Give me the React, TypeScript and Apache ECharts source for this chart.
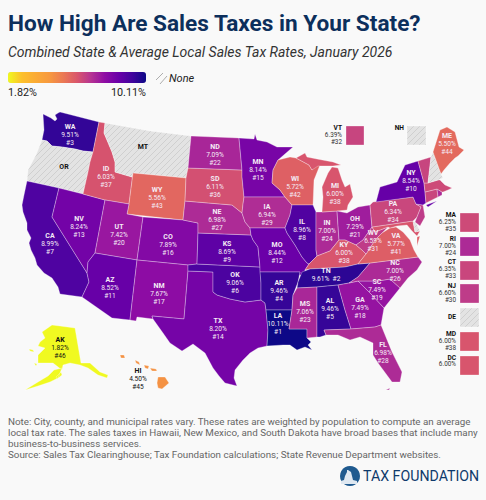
import React, { useEffect, useRef } from "react";
import * as echarts from "echarts";

const TITLE = "How High Are Sales Taxes in Your State?";
const SUBTITLE = "Combined State & Average Local Sales Tax Rates, January 2026";
const NOTE_LINES = [
  "Note: City, county, and municipal rates vary. These rates are weighted by population to compute an average",
  "local tax rate. The sales taxes in Hawaii, New Mexico, and South Dakota have broad bases that include many",
  "business-to-business services.",
  "Source: Sales Tax Clearinghouse; Tax Foundation calculations; State Revenue Department websites.",
];
const MIN_RATE = 1.82;
const MAX_RATE = 10.11;
const RAMP = ["#f0f921","#fcc02c","#fbab35","#f7993f","#eb7954","#d9566b","#b63492","#8f0da4","#6a00a8","#41049d","#0d0887"];

const STATES = ["AL","AK","AZ","AR","CA","CO","CT","DE","DC","FL","GA","HI","ID","IL","IN","IA","KS","KY","LA","ME","MD","MA","MI","MN","MS","MO","MT","NE","NV","NH","NJ","NM","NY","NC","ND","OH","OK","OR","PA","RI","SC","SD","TN","TX","UT","VT","VA","WA","WV","WI","WY"];
const RATES = [9.46,1.82,8.52,9.46,8.99,7.89,6.35,null,6.00,6.98,7.49,4.50,6.03,8.96,7.00,6.94,8.69,6.00,10.11,5.50,6.00,6.25,6.00,8.14,7.06,8.44,null,6.98,8.24,null,6.60,7.67,8.54,7.00,7.09,7.29,9.06,null,6.34,7.00,7.49,6.11,9.61,8.20,7.42,6.39,5.77,9.51,6.59,5.72,5.56];
const RANKS = [5,46,11,4,7,16,33,null,null,28,18,45,37,8,24,29,9,38,1,44,38,35,38,15,23,12,null,27,13,null,30,17,10,26,22,21,6,null,34,24,19,36,2,14,20,32,41,3,31,42,43];
const SIDE_STATES = ["VT","NH","MA","RI","CT","NJ","DE","MD","DC"];

// geometry of the map, in page pixels
const SHAPES: Record<string, number[][]> = {
  WA: [[43,114,47,116,51,118,55,121,57,119,55,115,58,113,60,112,99,122,93,152,83,151,75,149,62,147,52,146,47,141,42,140,44,130]],
  OR: [[42,140,47,141,52,146,62,147,75,149,83,151,93,152,90,162,88,172,83,194,59,188,27,181,28,170,36,155]],
  CA: [[27,181,59,188,52,217,87,273,89,282,82,297,60,294,58,287,52,278,44,273,37,265,35,258,31,250,29,243,31,238,27,230,27,223,23,212,22,205,24,195]],
  NV: [[59,188,83,194,105,200,95,253,88,262,87,273,52,217]],
  ID: [[99,122,105,123,104,133,112,152,115,162,115,172,132,177,133,173,129,204,105,200,83,194,88,172,90,162,93,152]],
  MT: [[105,123,150,131,191,136,188,168,186,178,133,173,132,177,115,172,115,162,112,152,104,133]],
  WY: [[133,173,186,178,185,201,183,220,127,214,129,204]],
  UT: [[105,200,129,204,127,214,143,217,137,260,95,253]],
  CO: [[143,217,183,220,198,223,198,233,197,264,188,265,137,260]],
  AZ: [[95,253,137,260,130,320,112,318,82,297,89,282,87,273,88,262]],
  NM: [[137,260,188,265,188,271,184,319,152,316,153,319,137,317,136,321,130,320]],
  TX: [[188,271,213,272,213,292,217,295,230,299,245,302,261,300,265,303,266,310,268,330,267,346,258,348,250,353,243,360,235,370,234,378,237,386,225,383,219,376,213,368,205,353,193,344,182,351,170,343,163,333,153,319,152,316,184,319]],
  OK: [[188,265,197,264,260,267,261,283,261,300,245,302,230,299,217,295,213,292,213,272,188,271]],
  KS: [[198,233,251,235,253,240,258,247,260,267,197,264]],
  NE: [[185,201,232,205,242,213,245,222,250,228,251,235,198,233,198,223,183,220]],
  SD: [[188,168,242,170,242,177,244,197,243,204,242,213,232,205,185,201,186,178]],
  ND: [[191,136,239,138,242,170,188,168]],
  MN: [[239,138,254,139,255,134,257,140,267,142,277,147,293,147,278,160,273,170,272,183,280,190,285,197,244,197,242,177,242,170]],
  IA: [[244,197,285,197,292,205,290,215,285,228,250,228,245,222,242,213,243,204]],
  MO: [[250,228,285,228,287,233,295,245,302,257,307,263,309,264,305,270,304,275,299,275,300,272,260,272,260,267,258,247,253,240,251,235]],
  AR: [[260,272,300,272,298,282,293,295,292,310,266,310,265,303,261,300,261,283]],
  LA: [[266,310,292,310,289,329,307,329,307,338,311,342,308,345,312,350,305,347,297,350,290,345,283,345,267,346,268,330]],
  WI: [[273,170,278,160,290,157,296,158,309,165,312,170,318,163,320,165,314,180,313,205,292,205,285,197,280,190,272,183]],
  IL: [[292,205,313,205,316,212,316,250,317,256,309,264,307,263,302,257,295,245,287,233,285,228,290,215]],
  IN: [[316,212,322,212,337,211,339,240,330,251,317,256,316,250]],
  MI: [[296,158,305,153,307,157,317,159,333,162,341,165,333,166,318,166,312,170,309,165],[332,167,338,168,342,180,345,187,350,184,353,197,348,205,347,210,337,211,322,212,323,197,322,187,328,173]],
  OH: [[337,211,347,213,358,207,370,205,372,227,363,240,356,245,345,240,339,240]],
  KY: [[305,270,309,264,317,256,330,251,339,240,345,240,356,245,362,250,366,254,358,264,345,267,310,269]],
  TN: [[302,272,310,269,345,267,358,264,370,263,358,277,349,283,338,285,317,287,297,288,298,282]],
  MS: [[297,288,317,287,317,337,307,338,307,329,289,329,292,310,293,295]],
  AL: [[317,287,338,285,345,310,351,329,324,330,326,335,320,337,317,337]],
  GA: [[338,285,349,283,358,281,360,283,372,295,384,308,381,325,375,327,351,329,345,310]],
  FL: [[324,330,351,329,375,327,381,325,392,352,402,372,400,382,392,382,378,363,373,355,373,343,360,337,350,340,338,335,326,335],[386,390,390,388,389,390]],
  SC: [[358,281,378,281,390,279,400,288,384,308,372,295,360,283]],
  NC: [[370,263,418,257,422,262,417,270,408,278,400,288,390,279,378,281,358,281,349,283,358,277]],
  VA: [[358,264,366,254,370,248,375,240,382,233,390,228,396,227,403,232,410,240,414,250,418,257,370,263],[417,237,420,236,417,246]],
  WV: [[372,227,375,232,388,227,382,233,375,240,370,248,366,254,362,250,356,245,363,240]],
  MD: [[372,227,413,221,415,232,420,231,417,236,412,231,407,225,397,226,390,228,388,227,375,232]],
  DE: [[413,221,416,223,420,231,415,232]],
  PA: [[370,205,373,202,413,197,416,204,421,207,417,217,413,221,372,227]],
  NJ: [[416,204,423,205,425,217,420,226,415,222,417,217,421,207]],
  NY: [[376,202,380,187,397,182,405,165,418,161,424,183,425,192,426,203,423,205,416,204,413,197],[426,205,437,201,428,207]],
  CT: [[425,192,437,189,438,197,426,203]],
  RI: [[437,189,442,192,442,195,438,197]],
  MA: [[424,183,428,183,438,180,440,180,445,185,452,188,448,190,443,192,442,192,437,189,425,192]],
  VT: [[418,161,431,157,428,183,424,183]],
  NH: [[431,157,433,152,441,174,443,178,438,180,428,183]],
  ME: [[433,152,440,130,447,127,455,132,459,147,464,150,458,156,455,158,450,163,444,170,441,174]],
  AK: [[52,325,60,326,75,328,81,363,90,363,100,372,108,375,107,378,98,375,88,368,80,365,70,363,63,365,62,370,53,363,38,363,38,355,45,348,38,346,40,342,45,338,42,332],[62,368,58,378,50,382,38,386,25,390,38,382,48,376,54,370],[61,372,62,375,57,379,56,377],[29,349,33,350,34,352,30,351],[34,363,37,364,36,366]],
  HI: [[158,377,165,377,169,383,162,389,158,388,157,383],[120,355,124,355,125,358,121,358],[135,360,139,362,140,365,136,363],[144,365,149,366,148,369,145,368],[150,368,156,369,157,371,152,371]],
};

const SIDE_BOXES: Record<string, number[]> = {
  VT: [346,126,18,19], NH: [407,126,19,19], MA: [460,213,19,19], RI: [460,237,19,19],
  CT: [460,261,19,19], NJ: [460,284,19,19], DE: [460,308,19,19], MD: [460,332,19,19], DC: [460,356,19,19],
};
const SIDE_LABEL_XY: Record<string, number[]> = {
  VT: [342,135], NH: [404,128], MA: [456,222], RI: [456,246], CT: [456,269],
  NJ: [456,293], DE: [456,317], MD: [456,341], DC: [456,361],
};
const LABEL_XY: Record<string, number[]> = {
  WA:[70,135],OR:[64,167],MT:[143,147],ID:[106,177],CA:[50,244],NV:[79,227],UT:[119,235],WY:[157,198],
  ND:[215,155],SD:[215,187],NE:[217,220],MN:[258,170],IA:[267,215],WI:[295,187],IL:[302,230],CO:[168,245],
  KS:[227,252],OK:[235,283],NM:[159,294],TX:[218,329],AR:[279,291],MO:[277,253],LA:[278,324],MS:[305,312],
  AZ:[110,288],AK:[60,348],HI:[138,379],TN:[326,275],KY:[344,253],AL:[330,309],GA:[360,308],SC:[377,290],
  NC:[395,271],FL:[383,353],MI:[335,194],IN:[327,231],OH:[355,227],PA:[393,212],NY:[411,181],WV:[373,241],
  VA:[396,244],ME:[447,144],
};

const FONT = "Roboto";

function ring(flat: number[]) {
  const r: number[][] = [];
  for (let i = 0; i < flat.length; i += 2) r.push([flat[i], flat[i + 1]]);
  r.push([flat[0], flat[1]]);
  return r;
}

function buildGeo() {
  const features: any[] = Object.keys(SHAPES).map((name) => ({
    type: "Feature",
    properties: { name, cp: LABEL_XY[name] },
    geometry: { type: "MultiPolygon", coordinates: SHAPES[name].map((p) => [ring(p)]) },
  }));
  Object.keys(SIDE_BOXES).forEach((s) => {
    const [x, y, w, h] = SIDE_BOXES[s];
    features.push({
      type: "Feature",
      properties: { name: s + " box", cp: [x + w / 2, y + h / 2] },
      geometry: { type: "Polygon", coordinates: [ring([x, y, x + w, y, x + w, y + h, x, y + h])] },
    });
  });
  return { type: "FeatureCollection", features };
}

function hatch(size: number, bg: string, fg: string) {
  const c = document.createElement("canvas");
  c.width = size;
  c.height = size;
  const g = c.getContext("2d")!;
  g.fillStyle = bg;
  g.fillRect(0, 0, size, size);
  g.strokeStyle = fg;
  g.lineWidth = 1;
  for (const d of [-size, 0, size]) {
    g.beginPath();
    g.moveTo(d, size);
    g.lineTo(d + size, 0);
    g.stroke();
  }
  return c;
}

const DARK_TEXT = new Set(["AK", "HI", "OR", "MT"]);

function labelText(s: string, rate: number | null, rank: number | null) {
  if (rate == null) return `{n|${s}}`;
  const v = rate.toFixed(2) + "%";
  if (s === "TN") return `{n|${s}}\n{v|${v}  #${rank}}`;
  return `{n|${s}}\n{v|${v}}\n{v|#${rank}}`;
}

export default function App() {
  const ref = useRef<HTMLDivElement>(null);
  useEffect(() => {
    document.body.style.margin = "0";
    document.body.style.background = "#f9f9f9";
    echarts.registerMap("us", buildGeo() as any);
    const chart = echarts.init(ref.current!, null, { renderer: "svg" });
    const pattern = { image: hatch(6, "#e3e3e3", "#cfcfcf"), repeat: "repeat" };
    const rich = (col: string) => ({
      n: { fontFamily: FONT, fontSize: 7, fontWeight: "bold", color: col, lineHeight: 8, align: "center" },
      v: { fontFamily: FONT, fontSize: 6.6, color: col, lineHeight: 8, align: "center" },
    });
    const data: any[] = [];
    STATES.forEach((s, i) => {
      const rate = RATES[i];
      const col = DARK_TEXT.has(s) ? "#111" : "#f5ecf6";
      const item: any = {
        name: s,
        value: rate == null ? NaN : rate,
        label: LABEL_XY[s]
          ? { show: true, formatter: labelText(s, rate, RANKS[i]), rich: rich(col), color: col }
          : { show: false },
      };
      if (rate == null) item.itemStyle = { areaColor: pattern };
      if (s !== "DC") data.push(item);
      if (SIDE_BOXES[s]) {
        const b: any = { name: s + " box", value: rate == null ? NaN : rate, label: { show: false } };
        if (rate == null) b.itemStyle = { areaColor: pattern };
        data.push(b);
      }
    });

    const sideTexts = SIDE_STATES.map((s) => {
      const i = STATES.indexOf(s);
      const rate = RATES[i];
      const rank = RANKS[i];
      const parts = [`{n|${s}}`];
      if (rate != null) parts.push(`{v|${rate.toFixed(2)}%}`);
      if (rank != null) parts.push(`{v|#${rank}}`);
      const [x, y] = SIDE_LABEL_XY[s];
      return {
        type: "text", x, y, silent: true,
        style: {
          text: parts.join("\n"), align: "right", verticalAlign: "middle",
          rich: {
            n: { fontFamily: FONT, fontSize: 6.6, fontWeight: "bold", fill: "#111", lineHeight: 6.8, align: "right" },
            v: { fontFamily: FONT, fontSize: 6.4, fill: "#333", lineHeight: 6.8, align: "right" },
          },
        },
      };
    });

    const txt = (text: string, x: number, y: number, size: number, fill: string, extra: any = {}) => ({
      type: "text", x, y, silent: true,
      style: { text, fontFamily: FONT, fontSize: size, fill, align: "left", verticalAlign: "middle", ...extra },
    });

    const graphics: any[] = [
      txt(TITLE, 8, 23, 22.6, "#0c2f5c", { fontWeight: "bold" }),
      txt(SUBTITLE, 8, 52, 14, "#333", { fontStyle: "italic" }),
      txt(MIN_RATE.toFixed(2) + "%", 8, 92, 10.8, "#222"),
      txt(MAX_RATE.toFixed(2) + "%", 146, 92, 10.8, "#222", { align: "right" }),
      txt("None", 169, 78, 11, "#222", { fontStyle: "italic" }),
      { type: "line", silent: true, shape: { x1: 156, y1: 80, x2: 163, y2: 73 }, style: { stroke: "#999", lineWidth: 0.8 } },
      { type: "line", silent: true, shape: { x1: 160, y1: 84, x2: 167, y2: 76 }, style: { stroke: "#999", lineWidth: 0.8 } },
      ...sideTexts,
      ...NOTE_LINES.map((l, i) => txt(l, 8, 421 + i * 11.2, 9.8, "#666")),
      { type: "circle", silent: true, shape: { cx: 350, cy: 476, r: 10 }, style: { fill: "#1f5a8f" } },
      { type: "polygon", silent: true, shape: { points: [[341, 484], [341, 481], [344, 480], [345, 476], [347, 472], [347, 470], [348, 470], [351, 472], [352, 476], [353, 480], [357, 481], [357, 484]] }, style: { fill: "#dfe8f1" } },
      txt("TAX FOUNDATION", 363, 476, 14.2, "#0e3a6b", { fontWeight: "normal" }),
    ];

    chart.setOption({
      animation: false,
      backgroundColor: "#f9f9f9",
      visualMap: {
        type: "continuous", seriesIndex: 0, min: MIN_RATE, max: MAX_RATE,
        orient: "horizontal", left: 8, top: 72, itemWidth: 11, itemHeight: 138, padding: 0,
        calculable: false, hoverLink: false, inRange: { color: RAMP },
        textStyle: { fontSize: 0, color: "transparent" }, formatter: () => "",
      },
      series: [{
        type: "map", map: "us", silent: true, roam: false,
        projection: { project: (p: number[]) => p, unproject: (p: number[]) => p },
        boundingCoords: [[0, 0], [486, 500]],
        left: 0, top: 0, width: 486, height: 500,
        selectedMode: false,
        itemStyle: { borderColor: "rgba(255,255,255,0.5)", borderWidth: 0.6, areaColor: "#ddd" },
        emphasis: { disabled: true },
        label: { show: false },
        data,
      }],
      graphic: graphics,
    });
    return () => chart.dispose();
  }, []);
  return <div ref={ref} style={{ position: "absolute", left: 0, top: 0, width: 486, height: 500 }} />;
}
